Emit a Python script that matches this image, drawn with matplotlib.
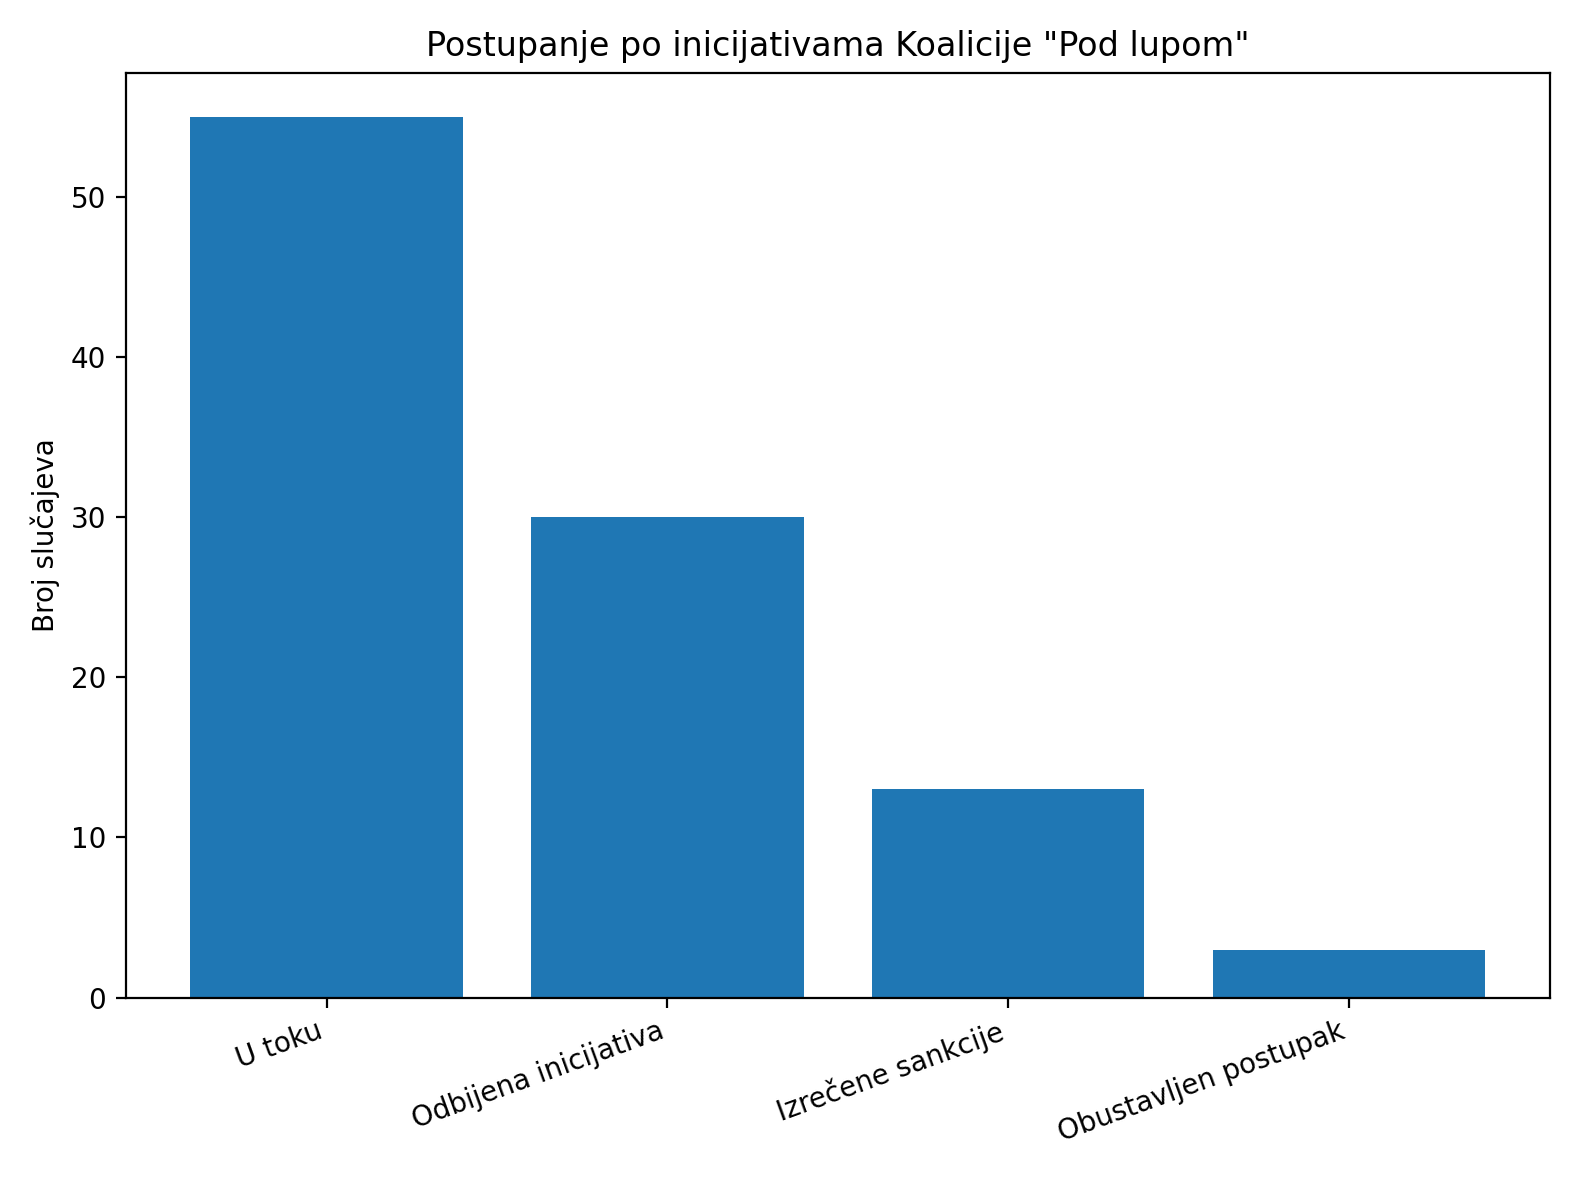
import matplotlib
matplotlib.use("Agg")
import matplotlib.pyplot as plt

categories = ["U toku", "Odbijena inicijativa", "Izrečene sankcije", "Obustavljen postupak"]
values = [55, 30, 13, 3]

fig, ax = plt.subplots(figsize=(7.9, 5.885), dpi=200)
ax.bar(categories, values, color="#1f77b4")
ax.set_title('Postupanje po inicijativama Koalicije "Pod lupom"')
ax.set_ylabel("Broj slučajeva")
plt.setp(ax.get_xticklabels(), rotation=20, ha="right")
fig.tight_layout()
fig.savefig("out.png", dpi=200)
